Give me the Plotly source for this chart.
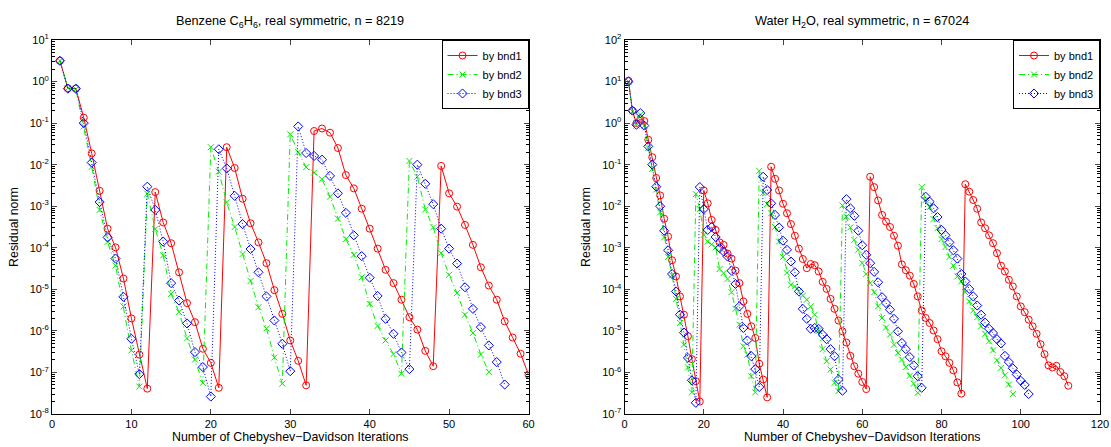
import numpy as np
import plotly.graph_objects as go

# ---------------- data (log10 of residual norm, iteration index starts at 1) ----------------
benz_bnd1_log10 = [0.50, -0.16, -0.17, -0.87, -1.73, -2.63, -3.54, -3.99, -4.74, -5.70,
                   -6.57, -7.39, -2.66, -3.39, -3.89, -4.59, -5.33, -5.79, -6.43, -6.77,
                   -7.37, -1.58, -2.08, -2.82, -3.41, -3.87, -4.37, -5.02, -5.59, -6.23,
                   -6.72, -7.31, -1.19, -1.13, -1.23, -1.60, -2.25, -2.57, -3.06, -3.54,
                   -4.02, -4.53, -4.85, -5.25, -5.67, -5.97, -6.48, -6.85, -2.03, -2.69,
                   -3.01, -3.45, -3.93, -4.47, -4.91, -5.25, -5.77, -6.16, -6.55, -7.05]
benz_bnd2_log10 = [0.50, -0.16, -0.18, -1.08, -2.05, -3.09, -3.86, -4.43, -5.41, -6.47,
                   -7.34, -2.70, -3.55, -4.18, -5.11, -5.55, -6.18, -6.69, -7.25, -1.58,
                   -2.17, -2.91, -3.50, -4.15, -4.80, -5.43, -5.94, -6.64, -7.27, -1.27,
                   -1.70, -2.06, -2.19, -2.35, -2.77, -3.30, -3.79, -4.17, -4.71, -5.35,
                   -5.88, -6.23, -6.56, -7.03, -1.91, -2.29, -3.08, -3.51, -4.13, -4.65,
                   -5.09, -5.61, -6.05, -6.57, -6.99]
benz_bnd3_log10 = [0.50, -0.17, -0.17, -1.00, -1.95, -2.90, -3.75, -4.26, -5.18, -6.19,
                   -7.04, -2.53, -3.09, -3.85, -4.85, -5.27, -5.82, -6.51, -6.87, -7.58,
                   -1.63, -2.09, -2.75, -3.43, -4.03, -4.59, -5.17, -5.75, -6.31, -6.97,
                   -1.08, -1.72, -1.79, -1.88, -2.27, -2.69, -3.16, -3.70, -4.20, -4.72,
                   -5.16, -5.71, -6.07, -6.52, -6.92, -2.00, -2.46, -2.95, -3.54, -4.02,
                   -4.38, -4.95, -5.47, -5.91, -6.35, -6.75, -7.29]

water_bnd1_log10 = [1.02, 0.30, 0.00, 0.10, 0.05, -0.40, -0.82, -1.32, -1.74, -2.30,
                    -2.73, -3.30, -3.69, -4.17, -4.61, -5.13, -5.68, -6.21, -6.70, -1.62,
                    -1.93, -2.33, -2.57, -2.87, -2.93, -3.14, -3.26, -3.55, -3.85, -4.29,
                    -4.59, -4.89, -5.17, -5.79, -6.17, -6.60, -1.05, -1.34, -1.62, -1.94,
                    -2.17, -2.43, -2.71, -3.02, -3.27, -3.49, -3.39, -3.42, -3.57, -3.82,
                    -3.99, -4.23, -4.47, -4.75, -5.01, -5.28, -5.60, -5.85, -6.03, -6.23,
                    -6.40, -1.29, -1.54, -1.86, -2.21, -2.37, -2.50, -2.71, -2.95, -3.40,
                    -3.54, -3.67, -3.87, -4.17, -4.51, -4.69, -4.81, -4.99, -5.20, -5.49,
                    -5.61, -5.77, -5.95, -6.24, -6.51, -1.47, -1.65, -1.85, -2.06, -2.39,
                    -2.53, -2.70, -2.89, -3.13, -3.43, -3.57, -3.77, -3.93, -4.17, -4.41,
                    -4.55, -4.73, -4.89, -5.07, -5.32, -5.56, -5.83, -5.88, -5.84, -5.99,
                    -6.09, -6.32]
water_bnd2_log10 = [1.00, 0.28, -0.06, 0.20, -0.06, -0.60, -1.10, -1.60, -2.15, -2.75,
                    -3.22, -3.66, -4.23, -4.81, -5.33, -5.88, -6.48, -1.71, -2.07, -2.69,
                    -2.85, -2.92, -2.99, -3.51, -3.61, -3.75, -4.07, -4.47, -4.85, -5.37,
                    -5.57, -6.09, -6.48, -1.15, -1.68, -1.95, -2.17, -2.50, -2.85, -3.22,
                    -3.60, -3.89, -3.93, -4.05, -4.15, -4.25, -4.41, -4.61, -5.00, -5.44,
                    -5.73, -5.93, -6.25, -6.45, -1.98, -2.25, -2.51, -2.81, -3.05, -3.37,
                    -3.63, -3.85, -4.07, -4.41, -4.69, -4.92, -5.09, -5.33, -5.53, -5.69,
                    -5.87, -6.08, -6.27, -6.49, -1.54, -1.85, -2.02, -2.31, -2.53, -2.79,
                    -2.98, -3.22, -3.43, -3.69, -3.81, -4.07, -4.29, -4.51, -4.67, -4.89,
                    -5.07, -5.25, -5.47, -5.71, -5.89, -6.07, -6.29, -6.52]
water_bnd3_log10 = [1.00, 0.30, -0.04, 0.24, -0.06, -0.56, -1.00, -1.53, -2.00, -2.59,
                    -3.06, -3.63, -4.05, -4.61, -5.04, -5.65, -6.19, -6.73, -1.54, -2.07,
                    -2.57, -2.50, -2.74, -3.01, -3.09, -3.21, -3.55, -3.87, -4.41, -4.93,
                    -5.23, -5.61, -5.92, -6.35, -1.29, -1.61, -1.93, -2.21, -2.51, -2.83,
                    -3.05, -3.33, -3.59, -4.05, -4.47, -4.71, -4.95, -4.93, -4.95, -5.09,
                    -5.20, -5.44, -5.61, -6.17, -6.44, -1.83, -2.05, -2.23, -2.59, -2.94,
                    -3.17, -3.37, -3.58, -3.83, -4.19, -4.33, -4.49, -4.71, -5.01, -5.29,
                    -5.44, -5.63, -5.83, -6.09, -6.37, -1.77, -1.89, -2.05, -2.26, -2.57,
                    -2.70, -2.87, -3.06, -3.26, -3.63, -3.81, -3.99, -4.17, -4.39, -4.61,
                    -4.80, -4.95, -5.05, -5.20, -5.30, -5.60, -5.75, -5.90, -6.05, -6.20,
                    -6.30, -6.52]

series_names = ["by bnd1", "by bnd2", "by bnd3"]
titles = ["Benzene C<sub>6</sub>H<sub>6</sub>, real symmetric, n = 8219",
          "Water H<sub>2</sub>O, real symmetric, n = 67024"]
x_title = "Number of Chebyshev\u2212Davidson Iterations"
y_title = "Residual norm"
left_xticks = [0, 10, 20, 30, 40, 50, 60]
right_xticks = [0, 20, 40, 60, 80, 100, 120]
left_ydecades = list(range(-8, 2))
right_ydecades = list(range(-7, 3))

# ---------------- styling ----------------
FONT = "Liberation Sans, Arial, Helvetica, sans-serif"
styles = [
    dict(color="#ff0000", dash="solid", symbol="circle-open", size=7),
    dict(color="#00ee00", dash="6px,3px,1px,3px", symbol="x-thin-open", size=6),
    dict(color="#0000ff", dash="1px,2px", symbol="diamond-open", size=7),
]

fig = go.Figure()

def add_series(data_list, xa, ya, legend):
    for name, data, st in zip(series_names, data_list, styles):
        y = np.power(10.0, np.array(data))
        x = np.arange(1, len(data) + 1)
        fig.add_trace(go.Scatter(
            x=x, y=y, name=name, mode="lines+markers", xaxis=xa, yaxis=ya,
            legend=legend,
            line=dict(color=st["color"], dash=st["dash"], width=1),
            marker=dict(symbol=st["symbol"], size=st["size"], color=st["color"],
                        line=dict(color=st["color"], width=1)),
        ))

add_series([benz_bnd1_log10, benz_bnd2_log10, benz_bnd3_log10], "x", "y", "legend")
add_series([water_bnd1_log10, water_bnd2_log10, water_bnd3_log10], "x2", "y2", "legend2")

def ylog_axis(decades, domain_anchor):
    tv = [10.0 ** d for d in decades]
    tt = ["10<sup>%d</sup>" % d for d in decades]
    minor_vals = [k * 10.0 ** d for d in decades[:-1] for k in range(2, 10)]
    return dict(type="log", range=[decades[0], decades[-1]], tickmode="array",
                tickvals=tv, ticktext=tt, ticks="inside", ticklen=5,
                showline=True, linecolor="black", linewidth=1, mirror="ticks",
                showgrid=False, zeroline=False, anchor=domain_anchor,
                automargin=False,
                tickfont=dict(size=11, family=FONT, color="black"),
                title=dict(text=y_title, font=dict(size=12.4, family=FONT, color="black"),
                           standoff=8),
                minor=dict(tickmode="array", tickvals=minor_vals, ticks="inside",
                           ticklen=3, tickcolor="black", showgrid=False))

def x_axis(ticks, domain, anchor):
    return dict(range=[ticks[0], ticks[-1]], tickmode="array", tickvals=ticks,
                ticks="inside", ticklen=5, showline=True, linecolor="black",
                linewidth=1, mirror="ticks", showgrid=False, zeroline=False,
                domain=domain, anchor=anchor, automargin=False,
                tickfont=dict(size=11, family=FONT, color="black"),
                title=dict(text=x_title, font=dict(size=12.4, family=FONT, color="black"),
                           standoff=2))

dom_left = [0.0, 0.4547]
dom_right = [0.5463, 1.0]

legend_common = dict(bgcolor="white", bordercolor="black", borderwidth=1,
                     font=dict(size=11, family=FONT, color="black"),
                     xanchor="right", yanchor="top", y=1.0, tracegroupgap=0,
                     itemwidth=30)

fig.update_layout(
    width=1111, height=447,
    margin=dict(l=52, r=11, t=40, b=33, autoexpand=False),
    paper_bgcolor="white", plot_bgcolor="white",
    font=dict(family=FONT, color="black"),
    xaxis=x_axis(left_xticks, dom_left, "y"),
    yaxis=ylog_axis(left_ydecades, "x"),
    xaxis2=x_axis(right_xticks, dom_right, "y2"),
    yaxis2=ylog_axis(right_ydecades, "x2"),
    legend=dict(x=dom_left[1], **legend_common),
    legend2=dict(x=dom_right[1], **legend_common),
    showlegend=True,
    hovermode=False,
    annotations=[
        dict(text=titles[0], x=(dom_left[0] + dom_left[1]) / 2, y=1.0, xref="paper",
             yref="paper", xanchor="center", yanchor="bottom", yshift=8, showarrow=False,
             font=dict(size=12.7, family=FONT, color="black")),
        dict(text=titles[1], x=(dom_right[0] + dom_right[1]) / 2, y=1.0, xref="paper",
             yref="paper", xanchor="center", yanchor="bottom", yshift=8, showarrow=False,
             font=dict(size=12.7, family=FONT, color="black")),
    ],
)

fig.write_html("out.html",
               config={"displayModeBar": False},
               post_script="document.body.style.margin='0px';"
                           "document.body.style.padding='0px';"
                           "document.body.style.overflow='hidden';")
